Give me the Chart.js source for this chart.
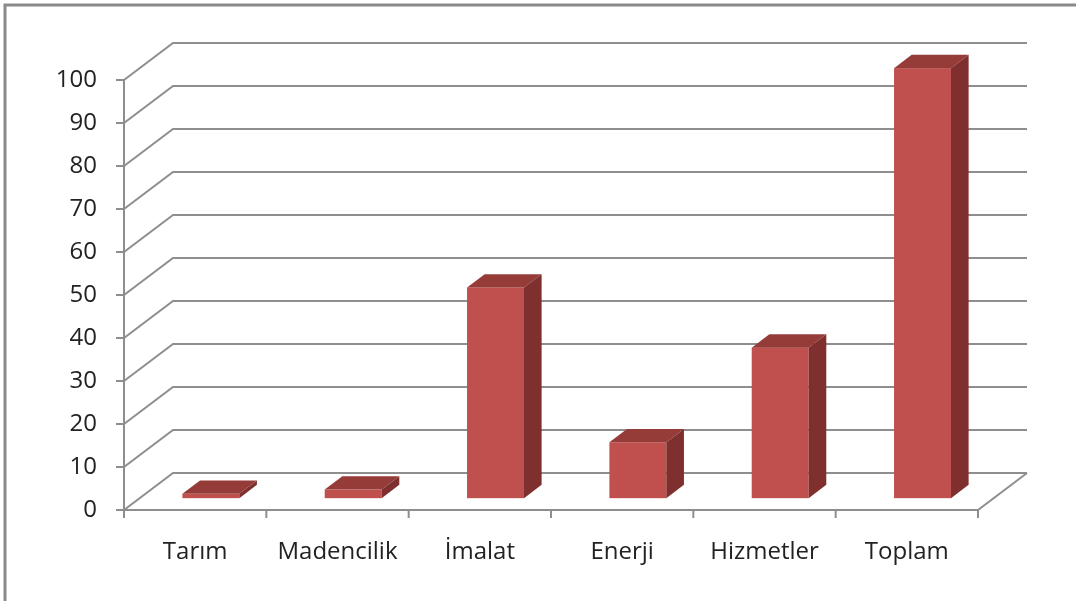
<!DOCTYPE html>
<html>
<head>
<meta charset="utf-8">
<script src="https://cdn.jsdelivr.net/npm/chart.js@4.4.1/dist/chart.umd.min.js"></script>
<style>
  html, body { margin: 0; padding: 0; background: #fff; }
</style>
</head>
<body>
<canvas id="myChart" width="1076" height="601"></canvas>
<script>
// sektörler ve değerler (okunan)
const kategoriler = ['Tarım', 'Madencilik', 'İmalat', 'Enerji', 'Hizmetler', 'Toplam'];
const degerler = [1, 2, 49, 13, 35, 100];
const yEksenMin = 0;
const yEksenMax = 100;
const yEksenAdim = 10;

// 3D görünüm ayarları
const derinlikX = 49;
const derinlikY = 37;
const barOnOran = 0.32;
const barArkaOran = 0.68;
const cizgiRengi = '#8e8e8e';

// 3D duvar, taban ve ızgara
const duvarPlugin = {
    id: 'duvar',
    beforeDraw(chart) {
        const ctx = chart.ctx;
        ctx.save();
        ctx.fillStyle = '#fff';
        ctx.fillRect(0, 0, chart.width, chart.height);
        // çerçeve
        ctx.strokeStyle = '#8a8a8a';
        ctx.lineWidth = 3;
        ctx.beginPath();
        ctx.moveTo(5, chart.height);
        ctx.lineTo(5, 5);
        ctx.lineTo(chart.width, 5);
        ctx.stroke();
        ctx.restore();
    },
    beforeDatasetsDraw(chart) {
        const ctx = chart.ctx;
        const area = chart.chartArea;
        const y = chart.scales.y;
        const x = chart.scales.x;
        ctx.save();
        ctx.strokeStyle = cizgiRengi;
        ctx.lineWidth = 2;
        ctx.beginPath();
        y.ticks.forEach(t => {
            const py = y.getPixelForValue(t.value);
            ctx.moveTo(area.left, py);
            ctx.lineTo(area.left + derinlikX, py - derinlikY);
            ctx.lineTo(area.right + derinlikX, py - derinlikY);
            // tick
            ctx.moveTo(area.left - 8, py);
            ctx.lineTo(area.left, py);
        });
        // y ekseni
        ctx.moveTo(area.left, area.top);
        ctx.lineTo(area.left, area.bottom);
        // taban ön ve sağ kenar
        ctx.moveTo(area.left, area.bottom);
        ctx.lineTo(area.right, area.bottom);
        ctx.lineTo(area.right + derinlikX, area.bottom - derinlikY);
        // kategori tickleri
        for (let i = 0; i <= kategoriler.length; i++) {
            const px = x.getPixelForValue(i - 0.5);
            ctx.moveTo(px, area.bottom);
            ctx.lineTo(px, area.bottom + 8);
        }
        ctx.stroke();
        ctx.restore();
    },
    afterDatasetsDraw(chart) {
        const ctx = chart.ctx;
        const meta = chart.getDatasetMeta(0);
        const fdx = derinlikX * barOnOran, fdy = derinlikY * barOnOran;
        const bdx = derinlikX * barArkaOran, bdy = derinlikY * barArkaOran;
        ctx.save();
        meta.data.forEach(bar => {
            const { x, y, base, width } = bar.getProps(['x', 'y', 'base', 'width'], true);
            const l = x - width / 2, r = x + width / 2;
            // ön yüz
            ctx.fillStyle = '#c0504d';
            ctx.fillRect(l + fdx, y - fdy, width, base - y);
            // üst yüz
            ctx.fillStyle = '#953b38';
            ctx.beginPath();
            ctx.moveTo(l + fdx, y - fdy);
            ctx.lineTo(r + fdx, y - fdy);
            ctx.lineTo(r + bdx, y - bdy);
            ctx.lineTo(l + bdx, y - bdy);
            ctx.closePath();
            ctx.fill();
            // yan yüz
            ctx.fillStyle = '#7f302e';
            ctx.beginPath();
            ctx.moveTo(r + fdx, y - fdy);
            ctx.lineTo(r + bdx, y - bdy);
            ctx.lineTo(r + bdx, base - bdy);
            ctx.lineTo(r + fdx, base - fdy);
            ctx.closePath();
            ctx.fill();
        });
        ctx.restore();
    }
};

const ctx = document.getElementById('myChart').getContext('2d');
new Chart(ctx, {
    type: 'bar',
    data: {
        labels: kategoriler,
        datasets: [{
            data: degerler,
            backgroundColor: 'rgba(0,0,0,0)',
            borderWidth: 0,
            categoryPercentage: 1,
            barPercentage: 0.4
        }]
    },
    options: {
        responsive: false,
        animation: false,
        layout: { padding: { left: 0, top: 80, right: 98, bottom: 0 } },
        plugins: { legend: { display: false }, tooltip: { enabled: false } },
        scales: {
            x: {
                grid: { display: false, drawTicks: false },
                border: { display: false },
                ticks: {
                    color: '#222',
                    font: { family: 'Open Sans', size: 24 },
                    padding: 28,
                    maxRotation: 0
                },
                afterFit: s => { s.height = 91; }
            },
            y: {
                min: yEksenMin,
                max: yEksenMax,
                grid: { display: false, drawTicks: false },
                border: { display: false },
                ticks: {
                    stepSize: yEksenAdim,
                    color: '#222',
                    font: { family: 'Open Sans', size: 24 },
                    padding: 27
                },
                afterFit: s => { s.width = 124; }
            }
        }
    },
    plugins: [duvarPlugin]
});
</script>
</body>
</html>
